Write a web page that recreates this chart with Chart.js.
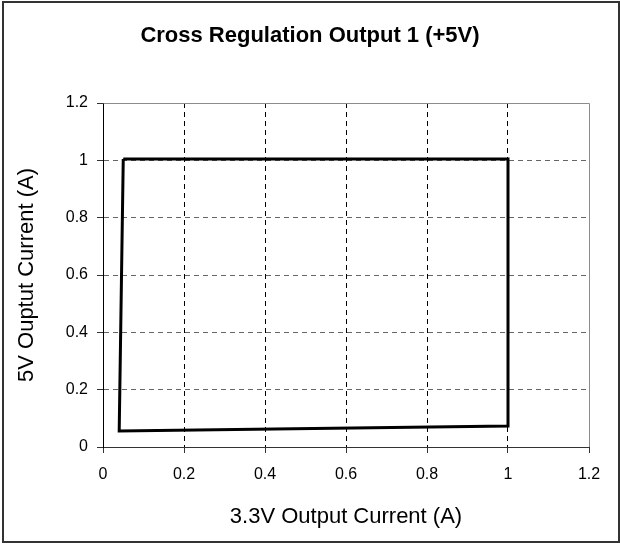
<!DOCTYPE html>
<html>
<head>
<meta charset="utf-8">
<title>Cross Regulation Output 1 (+5V)</title>
<script src="https://cdn.jsdelivr.net/npm/chart.js@4"></script>
<style>
  html, body { margin: 0; padding: 0; background: #fff; }
  canvas { display: block; }
</style>
</head>
<body>
<canvas id="chart" width="620" height="544"></canvas>
<script>
// boundary of the cross regulation region (closed polygon)
const current33V = [0.05, 1.0, 1.0, 0.04, 0.05];
const current5V = [1.005, 1.005, 0.073, 0.056, 1.005];

const xTickLabels = ['0', '0.2', '0.4', '0.6', '0.8', '1', '1.2'];
const yTickLabels = ['0', '0.2', '0.4', '0.6', '0.8', '1', '1.2'];

const points = current33V.map((x, i) => ({ x: x, y: current5V[i] }));

const FONT = 'Liberation Sans, Arial, sans-serif';

// grey frame on top/right of plot area + outer chart border
const framePlugin = {
  id: 'frame',
  beforeDatasetsDraw(chart) {
    const { ctx, chartArea: a } = chart;
    ctx.save();
    ctx.strokeStyle = '#8c8c8c';
    ctx.lineWidth = 1;
    ctx.beginPath();
    ctx.moveTo(Math.round(a.left) + 0.5, Math.round(a.top) + 0.5);
    ctx.lineTo(Math.round(a.right) + 0.5, Math.round(a.top) + 0.5);
    ctx.lineTo(Math.round(a.right) + 0.5, Math.round(a.bottom));
    ctx.stroke();
    ctx.restore();
  },
  afterDraw(chart) {
    const { ctx } = chart;
    ctx.save();
    ctx.strokeStyle = '#333';
    ctx.lineWidth = 2;
    ctx.strokeRect(3, 2, 616, 540);
    ctx.restore();
  }
};

const isEdge = (v) => Math.abs(v - 1.2) < 1e-6;

new Chart(document.getElementById('chart').getContext('2d'), {
  type: 'scatter',
  data: {
    datasets: [{
      data: points,
      showLine: true,
      borderColor: '#000',
      borderWidth: 3,
      borderJoinStyle: 'miter',
      pointRadius: 0,
      pointHoverRadius: 0,
      fill: false,
      tension: 0
    }]
  },
  options: {
    responsive: false,
    animation: false,
    devicePixelRatio: 1,
    layout: { padding: 0 },
    plugins: {
      legend: { display: false },
      tooltip: { enabled: false },
      title: {
        display: true,
        text: 'Cross Regulation Output 1 (+5V)',
        color: '#000',
        font: { family: FONT, size: 22, weight: 'bold' },
        padding: { top: 23, bottom: 53.6 }
      }
    },
    scales: {
      x: {
        type: 'linear',
        min: 0,
        max: 1.2,
        afterFit(scale) { scale.height = 97; },
        ticks: {
          stepSize: 0.2,
          color: '#000',
          font: { family: FONT, size: 16 },
          padding: 12,
          maxRotation: 0,
          callback: (v, i) => xTickLabels[i]
        },
        grid: {
          color: (c) => (c.tick && (isEdge(c.tick.value) || c.tick.value === 0)) ? 'rgba(0,0,0,0)' : '#000',
          lineWidth: 1,
          tickColor: '#333',
          tickLength: 6
        },
        border: { display: true, color: '#333', width: 1, dash: [5, 4] },
        title: {
          display: true,
          text: '3.3V Output Current (A)',
          color: '#000',
          font: { family: FONT, size: 22 },
          padding: { top: 0, bottom: 14 }
        }
      },
      y: {
        type: 'linear',
        min: 0,
        max: 1.2,
        afterFit(scale) { scale.width = 103; },
        ticks: {
          stepSize: 0.2,
          color: '#000',
          font: { family: FONT, size: 16 },
          padding: 9,
          callback: (v, i) => yTickLabels[i]
        },
        grid: {
          color: (c) => (c.tick && (isEdge(c.tick.value) || c.tick.value === 0)) ? 'rgba(0,0,0,0)' : '#666',
          lineWidth: 1,
          tickColor: '#333',
          tickLength: 6
        },
        border: { display: true, color: '#000', width: 1, dash: [5, 4] },
        title: {
          display: true,
          text: '5V Ouptut Current (A)',
          color: '#000',
          font: { family: FONT, size: 22 },
          padding: { top: 14, bottom: 0 }
        }
      },
      // empty right-hand margin so the title centres on the whole chart
      yRight: {
        type: 'linear',
        position: 'right',
        min: 0,
        max: 1.2,
        afterFit(scale) { scale.width = 31; },
        ticks: { display: false },
        grid: { display: false, drawTicks: false },
        border: { display: false },
        title: { display: false }
      }
    }
  },
  plugins: [framePlugin]
});
</script>
</body>
</html>
